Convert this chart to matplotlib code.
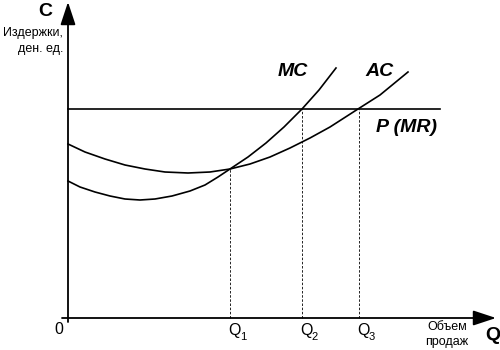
import matplotlib.pyplot as plt

# DATA (origin at the axes crossing)
mc_q = [0, 12, 27, 42, 57, 72, 87, 104, 122, 137, 150, 162, 180, 198, 216, 234, 251, 268]
mc_c = [137, 131, 126, 122, 119, 118, 119, 122, 127, 133, 141, 149, 161, 175, 191, 209, 228, 250]

ac_q = [0, 17, 37, 57, 77, 97, 120, 142, 162, 182, 202, 222, 242, 262, 290, 312, 340]
ac_c = [174, 166, 159, 153, 149, 146, 145, 146, 149, 154, 161, 170, 180, 191, 209, 223, 246]

price = 209
price_end = 372

q_points = [162, 234, 291]
q_heights = [149, 209, 209]
q_labels = ["1", "2", "3"]

FONT = "Liberation Sans"
plt.rcParams["font.family"] = FONT

fig = plt.figure(figsize=(5, 3.5), dpi=100)
ax = fig.add_axes([0, 0, 1, 1])
ax.set_xlim(-68, 432)
ax.set_ylim(-32, 318)
ax.axis("off")

# axes with arrows
arrow = dict(arrowstyle="-|>,head_length=1.0,head_width=0.33", mutation_scale=14,
             lw=1.3, color="black", shrinkA=0, shrinkB=0)
ax.annotate("", xy=(0, 316), xytext=(0, -4), arrowprops=arrow)
ax.annotate("", xy=(428, 0), xytext=(-6, 0), arrowprops=arrow)

# curves
ax.plot(mc_q, mc_c, color="black", lw=1.2, solid_joinstyle="round")
ax.plot(ac_q, ac_c, color="black", lw=1.2, solid_joinstyle="round")
ax.plot([0, price_end], [price, price], color="black", lw=1.2)

# dashed guides and labels (Q with a lowered index)
for q, h, lab in zip(q_points, q_heights, q_labels):
    ax.plot([q, q], [0, h], color="black", lw=0.6, dashes=(3, 2))
    ax.text(q + 4, -13, "Q", ha="center", va="center", fontsize=11.5)
    ax.text(q + 13, -19.5, lab, ha="center", va="center", fontsize=8)

ax.text(-9, -12, "0", ha="center", va="center", fontsize=11.5)
ax.text(-23, 306, "C", ha="center", va="center", fontsize=14, fontweight="bold")
ax.text(-5, 285, "Издержки,", ha="right", va="center", fontsize=9)
ax.text(-5, 269, "ден. ед.", ha="right", va="center", fontsize=9)
ax.text(225, 247, "MC", ha="center", va="center", fontsize=14, fontweight="bold", style="italic")
ax.text(312, 247, "AC", ha="center", va="center", fontsize=14, fontweight="bold", style="italic")
ax.text(338, 191, "P (MR)", ha="center", va="center", fontsize=14, fontweight="bold", style="italic")
ax.text(379, -9, "Объем", ha="center", va="center", fontsize=9)
ax.text(379, -24, "продаж", ha="center", va="center", fontsize=9)
ax.text(425, -17, "Q", ha="center", va="center", fontsize=14, fontweight="bold")

fig.savefig("out.png", dpi=100)
